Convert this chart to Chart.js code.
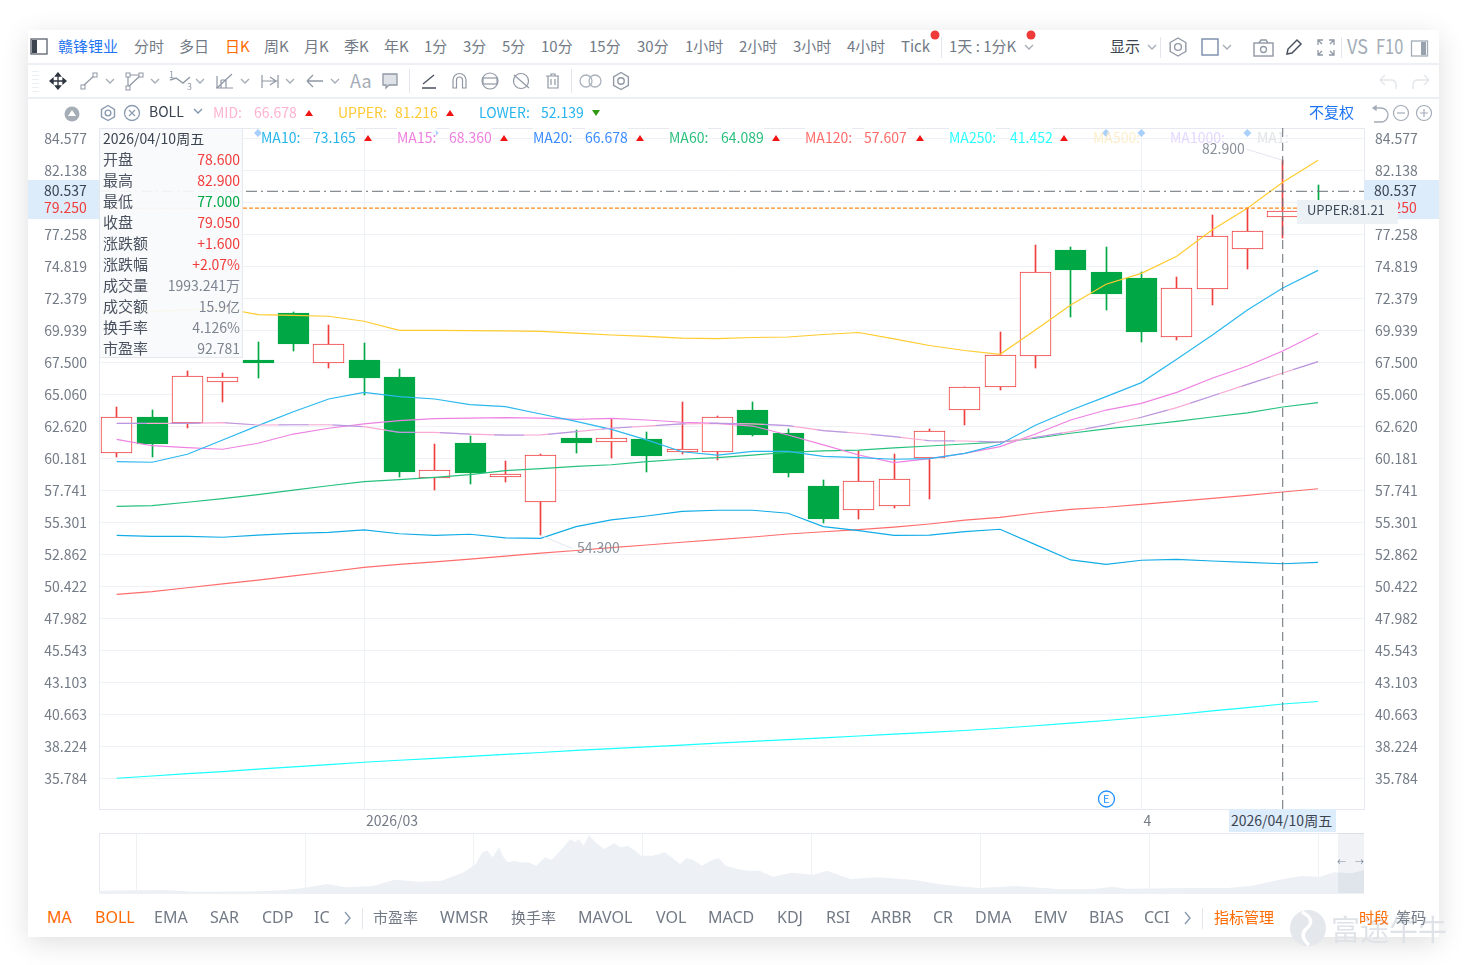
<!DOCTYPE html>
<html lang="zh"><head><meta charset="utf-8">
<script src="https://cdn.jsdelivr.net/npm/chart.js@4/dist/chart.umd.min.js"></script>
<style>
html,body{margin:0;padding:0;background:#fff;width:1469px;height:965px;overflow:hidden;font-family:"Noto Sans CJK SC","Noto Sans",sans-serif}
#card{position:absolute;left:28px;top:30px;width:1411px;height:907px;background:#fff;box-shadow:0 6px 26px rgba(0,0,0,.13)}
canvas{position:absolute;z-index:1}
.t{position:absolute;white-space:nowrap;line-height:20px;height:20px;z-index:4}
.b{position:absolute;z-index:3}
svg{position:absolute;left:0;top:0;z-index:5;pointer-events:none}
</style></head><body>
<div id="card"></div>
<canvas id="main" width="1412" height="735" style="left:28px;top:98px;width:1412px;height:735px"></canvas>
<canvas id="mini" width="1265" height="61" style="left:99px;top:833px;width:1265px;height:61px"></canvas>
<svg id="ic" width="1469" height="965" viewBox="0 0 1469 965"></svg>
<script>
// ---------- data ----------
const openPrices  = [60.56,63.33,62.85,65.98,67.68,71.26,67.42,67.68,66.38,58.66,61.35,58.78,56.83,61.73,61.40,61.65,60.68,60.68,63.86,62.11,58.07,56.22,56.57,60.18,63.84,65.59,67.96,76.06,74.38,73.93,69.41,73.07,76.11,78.60,79.60];
const highPrices  = [64.07,63.86,66.84,66.66,69.05,71.33,70.34,68.97,66.99,61.27,61.88,59.98,60.51,62.32,63.20,62.19,64.45,63.41,64.45,62.41,58.53,60.76,60.51,62.39,65.59,69.81,76.44,76.29,76.29,74.36,74.00,78.73,79.26,82.90,81.03];
const lowPrices   = [60.30,60.30,62.51,64.50,66.33,68.38,67.09,65.03,58.78,57.79,58.24,58.40,54.30,60.61,60.23,59.16,60.53,60.07,61.90,58.78,55.27,55.58,56.41,57.10,62.74,65.41,67.09,70.98,71.51,69.07,69.22,71.89,74.64,77.00,78.90];
const closePrices = [63.31,61.29,66.48,66.40,67.47,68.92,68.87,66.33,59.16,59.27,59.06,58.96,60.41,61.37,61.71,60.38,60.87,63.31,61.98,59.08,55.58,58.43,58.58,62.24,65.59,68.03,74.36,74.56,72.73,69.83,73.14,77.11,77.49,79.05,79.25];
const bollUpper = [71.33,71.37,71.49,71.64,71.13,71.08,71.01,70.63,69.94,69.94,69.92,69.89,69.85,69.73,69.58,69.47,69.35,69.31,69.39,69.43,69.62,69.77,69.28,68.78,68.40,68.11,69.96,71.87,73.45,74.28,75.58,77.59,79.24,81.22,82.90];
const bollLower = [54.31,54.23,54.23,54.16,54.33,54.46,54.54,54.72,54.43,54.31,54.39,54.11,54.08,54.97,55.48,55.78,56.14,56.22,56.22,55.99,54.97,54.66,54.31,54.33,54.59,54.77,53.60,52.43,52.10,52.41,52.48,52.35,52.25,52.14,52.25];
const bollMid   = [62.85,62.85,62.85,62.90,62.72,62.74,62.74,62.59,62.16,62.16,62.03,61.94,61.96,62.21,62.47,62.64,62.80,62.85,62.80,62.67,62.29,62.09,61.83,61.52,61.50,61.42,61.78,62.21,62.72,63.31,64.04,64.93,65.82,66.68,67.55];
const ma10  = [59.92,59.88,60.49,61.58,62.67,63.73,64.70,65.21,64.88,64.70,64.27,64.12,63.56,63.00,62.39,61.58,60.68,60.43,60.71,60.71,60.33,60.23,60.11,60.15,60.56,61.25,62.70,63.84,64.88,65.95,67.73,69.56,71.49,73.17,74.51];
const ma15  = [61.63,61.14,60.99,60.87,61.33,62.03,62.47,62.80,63.05,63.20,63.25,63.28,63.25,63.15,63.23,63.10,62.93,62.85,62.64,61.96,61.20,60.43,59.85,60.15,60.56,61.07,62.03,63.10,63.86,64.37,65.21,66.28,67.22,68.36,69.71];
const ma20  = bollMid.slice();
const ma60  = [56.52,56.57,56.83,57.10,57.41,57.76,58.09,58.40,58.55,58.73,58.93,59.24,59.39,59.57,59.69,59.92,60.11,60.23,60.43,60.64,60.74,60.81,60.97,61.12,61.27,61.42,61.71,62.09,62.42,62.70,63.00,63.33,63.64,64.09,64.42];
const ma120 = [49.81,50.01,50.31,50.60,50.90,51.21,51.53,51.87,52.09,52.28,52.50,52.73,52.95,53.15,53.37,53.57,53.78,53.98,54.18,54.41,54.58,54.75,54.94,55.17,55.46,55.68,56.01,56.29,56.45,56.67,56.90,57.13,57.36,57.61,57.86];
const ma250 = [35.79,35.96,36.14,36.30,36.48,36.66,36.83,37.01,37.16,37.30,37.46,37.61,37.75,37.91,38.04,38.18,38.32,38.46,38.60,38.74,38.87,39.01,39.15,39.29,39.43,39.60,39.79,39.99,40.19,40.42,40.65,40.92,41.18,41.45,41.64];
const priceTicks = [84.577,82.138,79.698,77.258,74.819,72.379,69.939,67.500,65.060,62.620,60.181,57.741,55.301,52.862,50.422,47.982,45.543,43.103,40.663,38.224,35.784];
const maskedTick = 79.698;
const dateTickIndex = [7,29];
const dateTickLabels = ['2026/03','4'];
const eventIndex = [4,5,9,16,28,29,32];
const hoverIndex = 33;
const lastPrice = 80.537, prevPrice = 79.25;
const overviewYears  = [2018.78,2019.15,2019.36,2019.72,2019.88,2019.99,2020.13,2020.24,2020.40,2020.53,2020.67,2020.81,2020.94,2021.01,2021.05,2021.08,2021.11,2021.15,2021.17,2021.20,2021.24,2021.28,2021.32,2021.37,2021.42,2021.46,2021.53,2021.57,2021.60,2021.62,2021.65,2021.68,2021.72,2021.77,2021.83,2021.87,2021.91,2021.95,2021.99,2022.06,2022.13,2022.17,2022.22,2022.26,2022.30,2022.35,2022.41,2022.45,2022.49,2022.56,2022.62,2022.69,2022.77,2022.88,2023.01,2023.09,2023.23,2023.39,2023.61,2023.78,2023.99,2024.21,2024.48,2024.67,2024.78,2024.86,2025.25,2025.46,2025.60,2025.76,2025.90,2026.01,2026.09,2026.20,2026.27];
const overviewLevels = [3.3,4,2.3,2.7,4,6,10,6.7,8,14.3,12.3,13.3,21.7,30,42,43.3,36.7,46.7,38.3,31.7,33.3,31.5,31.7,28.3,36.7,34,46.7,55,51.7,55,48.3,59,51.7,45,50.7,46.7,48.3,44,38.3,38.3,41.7,36.7,30,36,34,28.3,34,36,28.3,25,23.3,23.3,17.3,21.3,19.3,23.3,15,16.7,14,9.3,6,8,4.7,5,7.3,5.3,6,6,8,14,18,17.3,21.7,20.7,24];
const overviewTicks = [2019,2020,2021,2022,2023,2024,2025,2026];
const topMenu = [['分时',134],['多日',179],['周K',264],['月K',304],['季K',344],['年K',384],['1分',424],['3分',463],['5分',502],['10分',541],['15分',589],['30分',637],['1小时',685],['2小时',739],['3小时',793],['4小时',847],['Tick',901],['1天 : 1分K',949]];
const bottomMenu = [['EMA',154,1],['SAR',210,1],['CDP',262,1],['IC',314,1],['市盈率',373,0],['WMSR',440,1],['换手率',511,0],['MAVOL',578,1],['VOL',656,1],['MACD',708,1],['KDJ',777,1],['RSI',826,1],['ARBR',871,1],['CR',933,1],['DMA',975,1],['EMV',1034,1],['BIAS',1089,1],['CCI',1144,1]];
const quoteRows = [['开盘','78.600','#f23c3c'],['最高','82.900','#f23c3c'],['最低','77.000','#00a845'],['收盘','79.050','#f23c3c'],['涨跌额','+1.600','#f23c3c'],['涨跌幅','+2.07%','#f23c3c'],['成交量','1993.241万','#7d8590'],['成交额','15.9亿','#7d8590'],['换手率','4.126%','#7d8590'],['市盈率','92.781','#7d8590']];

// ---------- page chrome ----------
const GREY='#727a86', UP='#ef3e3e', DOWN='#00a845';
function t(s,x,yc,color,size,right,z){const d=document.createElement('div');d.className='t';d.textContent=s;d.style.top=(yc-11)+'px';
 if(right)d.style.right=(1469-x)+'px';else d.style.left=x+'px';d.style.color=color||GREY;d.style.fontSize=(size||15)+'px';if(z)d.style.zIndex=z;document.body.appendChild(d);return d;}
const latin=d=>{d.style.fontFamily='"Noto Sans",sans-serif';d.style.fontSize='16px';return d;};
function box(x,y,w,h,bg,z,extra){const d=document.createElement('div');d.className='b';d.style.cssText+=`left:${x}px;top:${y}px;width:${w}px;height:${h}px;background:${bg};`+(z?`z-index:${z};`:'')+(extra||'');document.body.appendChild(d);return d;}
box(28,63,1411,2,'#eceff3',1);box(28,97,1411,2,'#eceff3',1);
box(941,37,1,21,'#e3e7ec');box(1160,37,1,21,'#e3e7ec');box(1341,37,1,21,'#e3e7ec');box(409,69,1,24,'#e3e7ec');box(571,69,1,24,'#e3e7ec');
box(362,908,1,21,'#e3e7ec');box(1202,908,1,21,'#e3e7ec');
for(let i=0;i<6;i++)box(32,71+i*4,7,1,'#eceff3');
t('赣锋锂业',58,47,'#1f74f2');t('日K',225,47,'#ff6a00');
topMenu.forEach(([s,x])=>t(s,x,47));
t('显示',1110,47,'#3c4450');
const vs=t('VS',1347,47,'#a4acb6',20);vs.style.transform='scaleX(.9)';vs.style.transformOrigin='left';
const f10=t('F10',1376,47,'#a4acb6',20);f10.style.transform='scaleX(.82)';f10.style.transformOrigin='left';
t('Aa',350,81,'#a4acb6',18);t('1',169,76,'#8f98a4',9);t('3',187,88,'#8f98a4',9);
t('BOLL',149,112,'#3a4250',14);
t('MID:',213,113,'#ffb3d1',14);t('66.678',254,113,'#ffb3d1',14);
t('UPPER:',338,113,'#ffc933',14);t('81.216',395,113,'#ffc933',14);
t('LOWER:',479,113,'#28b5ee',14);t('52.139',541,113,'#28b5ee',14);
t('不复权',1309,113,'#1f74f2');
[['MA10:','73.165',261,313,'#27b5ea'],['MA15:','68.360',397,449,'#ee7fdf'],['MA20:','66.678',533,585,'#3a8cff'],['MA60:','64.089',669,721,'#2cc07e'],['MA120:','57.607',805,864,'#ff6b6b'],['MA250:','41.452',949,1010,'#2dffff']].forEach(r=>{
 t(r[0],r[2],138,r[4],14).style.background='rgba(255,255,255,.85)';t(r[1],r[3],138,r[4],14).style.background='rgba(255,255,255,.85)';});
t('MA500:',1093,138,'#fdeecb',14);t('MA1000:',1170,138,'#e4d8ff',14);t('MA1:',1257,138,'#e2e4e8',14);
// quote box
box(99,128,144,230,'rgba(249,250,251,.93)',3,'box-sizing:border-box;border:1px solid #e5e9ef;');
t('2026/04/10周五',103,139,'#3c4450',14);
quoteRows.forEach((r,i)=>{t(r[0],103,160+21*i,'#4a5260');t(r[1],240,160+21*i,r[2],14,true);});
// price bands
box(28,180,71,39,'#dcecfb',3);box(1364,180,75,39,'#dcecfb',3);
t('80.537',44,191,'#3c4450',14);t('79.250',44,208,'#f23c3c',14);
t('80.537',1374,191,'#3c4450',14);t('79.250',1374,208,'#f23c3c',14);
box(1297,200,101,24,'#ecf1f6',4);
t('UPPER:81.21',1307,211,'#3c4a5a',13,false,5);
// date tag
box(1229,809,107,23,'#ddecfb',3);t('2026/04/10周五',1231,821,'#3c4450',14);
// high/low notes
t('82.900',1202,149,'#8a919c',14);t('54.300',577,548,'#8a919c',14);
// overview selection
box(1338,833,26,60,'rgba(120,135,160,.11)',3);
t('←',1337,863,'#7d8ba0',9);t('→',1355,863,'#7d8ba0',9);
// bottom menu
latin(t('MA',47,918,'#ff6a00'));latin(t('BOLL',95,918,'#ff6a00'));
bottomMenu.forEach(([s,x,isLatin])=>{const d=t(s,x,918);if(isLatin)latin(d);});
t('指标管理',1214,918,'#ff6a00');
t('富途牛牛',1331,929,'#dfe3e8',29,false,3);
t('时段',1359,918,'#ff6a00');t('筹码',1396,918,'#727a86');
t('E',1103,799,'#1f8fff',11,false,6);

// icons
const S='#8f98a4';
const chev=(x,y,c)=>`<path d="M${x-4} ${y-2}l4 4 4-4" fill="none" stroke="${c||'#a3acb7'}" stroke-width="1.3"/>`;
const gear=(x,y,r,c)=>{let p=[];for(let i=0;i<6;i++){const a=Math.PI/3*i+Math.PI/6;p.push((x+r*Math.cos(a)).toFixed(1)+','+(y+r*Math.sin(a)).toFixed(1));}return `<polygon points="${p.join(' ')}" fill="none" stroke="${c||S}" stroke-width="1.4" stroke-linejoin="round"/><circle cx="${x}" cy="${y}" r="${r*.38}" fill="none" stroke="${c||S}" stroke-width="1.4"/>`;};
const tri=(x,y,c,down)=>down?`<polygon points="${x-4},${y-3} ${x+4},${y-3} ${x},${y+3}" fill="${c}"/>`:`<polygon points="${x-4},${y+3} ${x+4},${y+3} ${x},${y-3}" fill="${c}"/>`;
let h='';
h+=`<rect x="31" y="39" width="16" height="15" fill="none" stroke="#59616d" stroke-width="1.3"/><rect x="32" y="40" width="5" height="13" fill="#3c4450"/>`;
h+=`<rect x="1411.5" y="41" width="16" height="15" fill="none" stroke="#a3acb7" stroke-width="1.3"/><rect x="1421" y="42" width="5" height="13" fill="#98a2ae"/>`;
h+=`<circle cx="935" cy="35" r="4.5" fill="#ef3a3a"/><circle cx="1031" cy="35" r="4.5" fill="#ef3a3a"/>`;
h+=chev(1029,47)+chev(1152,47)+chev(1227,47)+gear(1178,47,9)+`<rect x="1202" y="39" width="16" height="16" fill="none" stroke="#7f93ad" stroke-width="1.5"/>`;
h+=`<rect x="1254" y="43" width="19" height="13" fill="none" stroke="${S}" stroke-width="1.4"/><path d="M1259 43l2-3h5l2 3" fill="none" stroke="${S}" stroke-width="1.4"/><circle cx="1263.5" cy="49.5" r="3" fill="none" stroke="${S}" stroke-width="1.3"/>`;
h+=`<path d="M1287 54l1-5 9-9 4 4-9 9z" fill="none" stroke="#4a5260" stroke-width="1.5"/>`;
h+=`<path d="M1318 45v-5h5M1329 40h5v5M1334 50v5h-5M1323 55h-5v-5M1318 40l4 4M1334 40l-4 4M1334 55l-4-4M1318 55l4-4" fill="none" stroke="${S}" stroke-width="1.3"/>`;
// tool row
h+=`<path d="M58 73v16M50 81h16M58 73l-2.5 3h5zM58 89l-2.5-3h5zM50 81l3-2.5v5zM66 81l-3-2.5v5z" fill="#2e3540" stroke="#2e3540" stroke-width="1.3"/>`;
h+=`<path d="M83 86l12-11" stroke="${S}" fill="none" stroke-width="1.2"/><rect x="81" y="85" width="4" height="4" fill="#fff" stroke="${S}"/><rect x="93" y="73" width="4" height="4" fill="#fff" stroke="${S}"/>`+chev(110,81);
h+=`<path d="M127 75h14M128 75v12M128 87l13-12" stroke="${S}" fill="none" stroke-width="1.2"/><rect x="126" y="73" width="4" height="4" fill="#fff" stroke="${S}"/><rect x="139" y="73" width="4" height="4" fill="#fff" stroke="${S}"/><rect x="126" y="86" width="4" height="4" fill="#fff" stroke="${S}"/>`+chev(155,81);
h+=`<path d="M170 80l6-2 7 5 7-6" stroke="${S}" fill="none" stroke-width="1.4"/>`+chev(200,81);
h+=`<path d="M216 88h17M217 76v12M217 88l15-14M221 88v-8M226 88v-8M221 80h5" stroke="${S}" fill="none" stroke-width="1.2"/>`+chev(245,81);
h+=`<path d="M262 75v13M278 75v13M262 81h16M270 77l6 4-6 4" stroke="${S}" fill="none" stroke-width="1.2"/>`+chev(290,81);
h+=`<path d="M307 81h16M307 81l6-6M307 81l6 6" stroke="${S}" fill="none" stroke-width="1.3"/>`+chev(335,81);
h+=`<path d="M383 74h14v11h-8l-3 3v-3h-3z" fill="#dfe3e8" stroke="${S}" stroke-width="1.3"/>`;
h+=`<path d="M422 88h14M423 84l11-9" stroke="#4a5260" fill="none" stroke-width="1.3"/>`;
h+=`<path d="M453 88V80a6.5 6.5 0 0 1 13 0v8h-3.5V80a3 3 0 0 0-6 0v8z" fill="none" stroke="${S}" stroke-width="1.2"/>`;
h+=`<circle cx="490" cy="81" r="8" fill="none" stroke="${S}" stroke-width="1.2"/><rect x="483" y="78" width="14" height="6" fill="#fff" stroke="${S}" stroke-width="1.2"/>`;
h+=`<circle cx="521" cy="81" r="7.5" fill="none" stroke="${S}" stroke-width="1.2"/><path d="M514 75l15 13" stroke="${S}" stroke-width="1.2"/>`;
h+=`<path d="M546 76h13M551 76v-2h4v2M548 76v12h10v-12M551 79v6M555 79v6" fill="none" stroke="${S}" stroke-width="1.2"/>`;
h+=`<circle cx="586" cy="81" r="6" fill="none" stroke="#aab2bc" stroke-width="1.3"/><circle cx="595" cy="81" r="6" fill="none" stroke="#aab2bc" stroke-width="1.3"/>`+gear(621,81,8.5);
h+=`<path d="M1380 80l5-5M1380 80l5 5M1380 80h11q5 0 5 5v4" fill="none" stroke="#e3e6ea" stroke-width="1.4"/><path d="M1429 80l-5-5M1429 80l-5 5M1429 80h-11q-5 0-5 5v4" fill="none" stroke="#e3e6ea" stroke-width="1.4"/>`;
// indicator row
h+=`<circle cx="72" cy="114" r="7.5" fill="#a5adb7"/><polygon points="72,110 76,116 68,116" fill="#fff"/>`+gear(108,113,7.5,'#8a9bb0');
h+=`<circle cx="132" cy="113" r="7.5" fill="none" stroke="#8a9bb0" stroke-width="1.3"/><path d="M129 110l6 6M135 110l-6 6" stroke="#8a9bb0" stroke-width="1.2"/>`+chev(198,111,'#7f93ad');
h+=tri(309,113,'#f01414')+tri(450,113,'#f01414')+tri(596,113,'#2f9a12',true);
[368,504,640,776,920,1064].forEach(x=>h+=tri(x,138,'#f01414'));
h+=`<path d="M1373 108h8a7 7 0 0 1 0 14h-7M1373 108l3-2v4z" fill="none" stroke="#a3acb7" stroke-width="1.3"/>`;
h+=`<circle cx="1401" cy="113" r="7.5" fill="none" stroke="#a3acb7" stroke-width="1.2"/><path d="M1397 113h8" stroke="#a3acb7" stroke-width="1.2"/>`;
h+=`<circle cx="1424" cy="113" r="7.5" fill="none" stroke="#a3acb7" stroke-width="1.2"/><path d="M1420 113h8M1424 109v8" stroke="#a3acb7" stroke-width="1.2"/>`;
h+=`<circle cx="1106.5" cy="799" r="8" fill="#fff" stroke="#1f8fff" stroke-width="1.3"/>`;
h+=`<path d="M345 912l5 6-5 6M1185 912l5 6-5 6" fill="none" stroke="#8a9bb0" stroke-width="1.4"/>`;
h+=`<circle cx="1308" cy="928" r="18" fill="#e4e7eb"/><path d="M1302 912q15 8 4 17q-7 7 3 16" fill="none" stroke="#fff" stroke-width="3.5"/>`;
document.getElementById('ic').innerHTML=h;

// ---------- main chart ----------
const GRID='#eef1f5', AXISC='#737b86', FONT={family:'"Noto Sans CJK SC","Noto Sans",sans-serif',size:14};
const xy=a=>a.map((v,i)=>({x:i,y:v}));
const isUp=i=>closePrices[i]>=openPrices[i];
const lineDs=(label,data,color,extra)=>Object.assign({type:'line',label,data:xy(data),borderColor:color,borderWidth:1.2,pointRadius:0,tension:0,order:10,fill:false},extra||{});
const crisp={id:'crisp',afterDatasetsUpdate(ch){ch.getSortedVisibleDatasetMetas().forEach(m=>{if(m.type!=='bar')return;m.data.forEach(el=>{el.x=Math.floor(el.x)+.5;el.y=Math.round(el.y);el.base=Math.round(el.base);});});}};
const frame={id:'frame',beforeDatasetsDraw(ch){const a=ch.chartArea,c=ch.ctx;c.save();c.strokeStyle='#e6eaf0';c.lineWidth=1;c.strokeRect(Math.floor(a.left)+.5,Math.floor(a.top)+.5,Math.round(a.width),Math.round(a.height));c.restore();}};
const fixedY={min:33.444,max:85.362,afterBuildTicks(s){s.ticks=priceTicks.map(v=>({value:v}));}};
const tickCb=v=>v===maskedTick?'':v.toFixed(3);
new Chart(document.getElementById('main'),{type:'bar',plugins:[crisp,frame],data:{datasets:[
 {type:'line',label:'crosshair',data:[{x:hoverIndex,y:33.444},{x:hoverIndex,y:85.362}],borderColor:'#666d78',borderWidth:1,borderDash:[9,5],pointRadius:0,order:1},
 {type:'line',label:'last',data:[{x:-0.5,y:lastPrice},{x:35.3,y:lastPrice}],borderColor:'#6a6f78',borderWidth:1,borderDash:[11,4,2,4],pointRadius:0,order:2},
 {type:'line',label:'prev',data:[{x:-0.5,y:prevPrice},{x:35.3,y:prevPrice}],borderColor:'#ff8a1e',borderWidth:1.2,borderDash:[4,2],pointRadius:0,order:2},
 {type:'line',label:'highNote',data:[{x:31.96,y:83.76},{x:33,y:82.9}],borderColor:'#e3e6ee',borderWidth:1,pointRadius:0,order:3},
 {type:'line',label:'lowNote',data:[{x:12,y:54.3},{x:12.9,y:53.3}],borderColor:'#e3e6ee',borderWidth:1,pointRadius:0,order:3},
 {type:'line',label:'events',data:eventIndex.map(i=>({x:i,y:84.98})),showLine:false,pointStyle:'rectRot',pointRadius:4,pointBackgroundColor:'#a9cffb',pointBorderWidth:0,order:4},
 lineDs('MA20',ma20,'rgba(105,130,240,.45)',{borderDash:[30,24],order:9}),
 lineDs('MID',bollMid,'#f9a9d4',{order:10}),
 lineDs('UPPER',bollUpper,'#ffcb2e'),
 lineDs('LOWER',bollLower,'#12ace6'),
 lineDs('MA10',ma10,'#2cb8ee'),
 lineDs('MA15',ma15,'#ee82e3'),
 lineDs('MA60',ma60,'#26c17e'),
 lineDs('MA120',ma120,'#ff6d6d'),
 lineDs('MA250',ma250,'#19ffff'),
 {type:'bar',label:'bodies',data:openPrices.map((o,i)=>({x:i,y:[o,closePrices[i]]})),grouped:false,barThickness:31,borderWidth:1,borderSkipped:false,
  backgroundColor:c=>isUp(c.dataIndex)?'#fff':DOWN,borderColor:c=>isUp(c.dataIndex)?UP:DOWN,order:20},
 {type:'bar',label:'wicks',data:lowPrices.map((l,i)=>({x:i,y:[l,highPrices[i]]})),grouped:false,barThickness:1,borderWidth:0,
  backgroundColor:c=>isUp(c.dataIndex)?UP:DOWN,order:30}
]},options:{responsive:false,animation:false,devicePixelRatio:1,layout:{padding:{top:30,left:0,right:0,bottom:0}},
 plugins:{legend:{display:false},tooltip:{enabled:false}},events:[],
 scales:{
  x:{type:'linear',min:-0.5,max:35.3,offset:false,
   grid:{offset:false,color:GRID,drawTicks:false},border:{display:false},
   afterBuildTicks(s){s.ticks=dateTickIndex.map(v=>({value:v}));},
   afterFit(s){s.height=24;},
   ticks:{autoSkip:false,maxRotation:0,align:'start',labelOffset:2,padding:3,color:AXISC,font:FONT,callback:v=>dateTickLabels[dateTickIndex.indexOf(v)]}},
  y:Object.assign({type:'linear',position:'left',grid:{color:GRID,drawTicks:false},border:{display:false},afterFit(s){s.width=71;},
   ticks:{padding:12,color:AXISC,font:FONT,callback:tickCb}},fixedY),
  yR:Object.assign({type:'linear',position:'right',grid:{display:false,drawTicks:false},border:{display:false},afterFit(s){s.width=76;},
   ticks:{padding:11,color:AXISC,font:FONT,callback:tickCb}},fixedY)
 }}});

// ---------- overview chart ----------
new Chart(document.getElementById('mini'),{type:'line',plugins:[frame],data:{datasets:[
 {label:'overview',data:overviewYears.map((x,i)=>({x,y:overviewLevels[i]})),borderWidth:0,pointRadius:0,tension:0,fill:'origin',backgroundColor:'#edf1f5'}
]},options:{responsive:false,animation:false,devicePixelRatio:1,events:[],layout:{padding:0},
 plugins:{legend:{display:false},tooltip:{enabled:false}},
 scales:{
  x:{type:'linear',min:2018.78,max:2026.27,grid:{color:'#eff2f5',drawTicks:false},border:{display:false},
   afterBuildTicks(s){s.ticks=overviewTicks.map(v=>({value:v}));},afterFit(s){s.height=0;},
   ticks:{autoSkip:false,maxRotation:0,padding:-15,labelOffset:-1,z:2,color:AXISC,font:FONT,callback:v=>String(v)}},
  y:{display:false,min:0,max:61}
 }}});
</script></body></html>
